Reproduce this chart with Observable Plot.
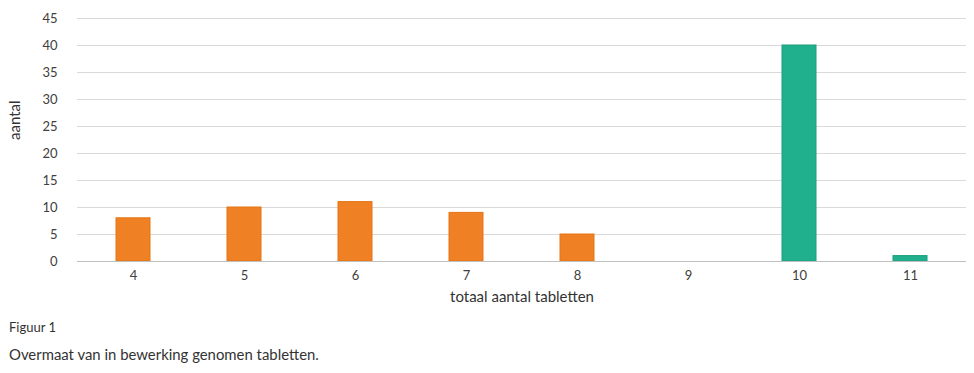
<!DOCTYPE html>
<html><head><meta charset="utf-8">
<script src="https://cdn.jsdelivr.net/npm/d3@7"></script>
<script src="https://cdn.jsdelivr.net/npm/@observablehq/plot@0.6"></script>
<style>
body{margin:0;background:#fff;font-family:Lato,"Noto Sans",sans-serif;color:#333;}
#cap1{position:absolute;left:9px;top:319px;font-size:13px;}
#cap2{position:absolute;left:9px;top:345px;font-size:14.9px;}
</style></head><body>
<div id="chart"></div>
<div id="cap1">Figuur 1</div>
<div id="cap2">Overmaat van in bewerking genomen tabletten.</div>
<script>
const categories = ["4","5","6","7","8","9","10","11"];
const values = [8,10,11,9,5,0,40,1];
const groups = ["a","a","a","a","a","a","b","b"];
const yTicks = [0,5,10,15,20,25,30,35,40,45];
const data = categories.map((c,i)=>({c, v: values[i], g: groups[i]}));
const chart = Plot.plot({
  width: 974, height: 312,
  marginTop: 18, marginBottom: 51, marginLeft: 77, marginRight: 8,
  style: {fontFamily: "Lato, 'Noto Sans', sans-serif", fontSize: "13px", color: "#404040"},
  x: {domain: categories, paddingInner: 0.69, paddingOuter: 0.345, label: null, tickSize: 0, tickPadding: 9},
  y: {domain: [0,45], ticks: yTicks, label: null, tickSize: 0, tickPadding: 20},
  color: {domain: ["a","b"], range: ["#F08024","#20B08E"]},
  marks: [
    Plot.gridY(yTicks.filter(t=>t>0), {stroke: "#d9d9d9", strokeOpacity: 1, strokeWidth: 1}),
    Plot.barY(data, {x: "c", y: "v", fill: "g", stroke: d => d.g === "a" ? "#e57415" : "#1a9e7f", strokeWidth: 1}),
    Plot.ruleY([0], {stroke: "#bfbfbf"}),
    Plot.axisX({tickSize: 0, tickPadding: 9, fontSize: 13}),
    Plot.axisY({ticks: yTicks, tickSize: 0, tickPadding: 20, fontSize: 13}),
    Plot.text(["totaal aantal tabletten"], {frameAnchor: "bottom", dy: 40, fontSize: 15, fill: "#333"}),
    Plot.text(["aantal"], {frameAnchor: "left", dx: -62, rotate: -90, fontSize: 15, fill: "#333"})
  ]
});
document.getElementById("chart").appendChild(chart);
</script>
</body></html>
